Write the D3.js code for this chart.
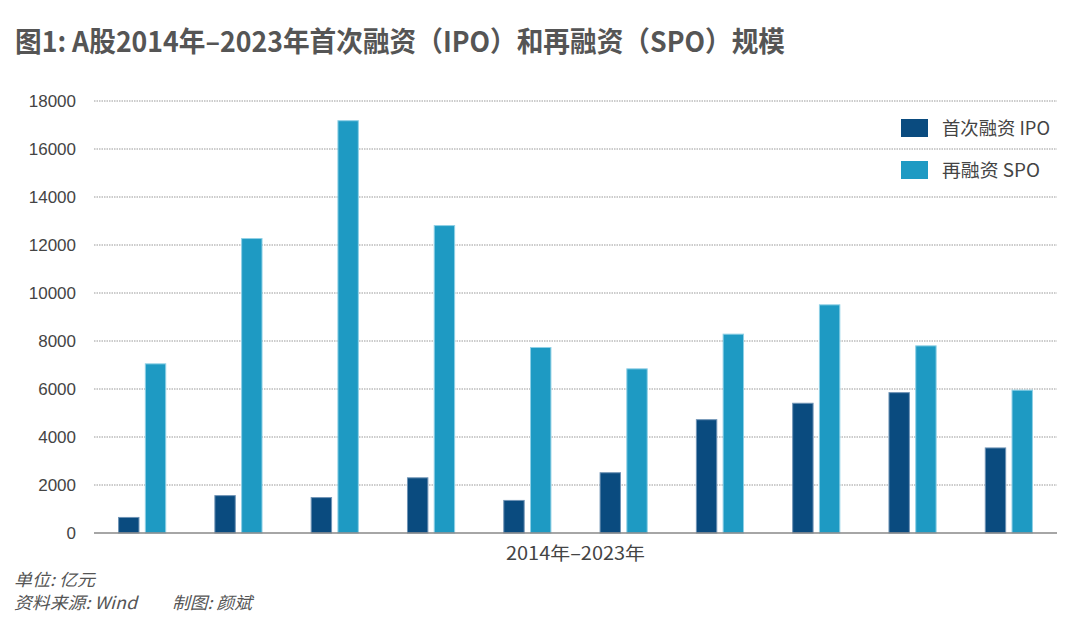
<!DOCTYPE html>
<html>
<head>
<meta charset="utf-8">
<script src="https://cdn.jsdelivr.net/npm/d3@7"></script>
<style>
  body { margin: 0; background: #fff; }
  svg text { font-family: "Noto Sans CJK SC", "Noto Sans", sans-serif; }
</style>
</head>
<body>
<svg id="chart" width="1080" height="632"></svg>
<script>
// years on the x axis
const years = ['2014', '2015', '2016', '2017', '2018', '2019', '2020', '2021', '2022', '2023'];
// 首次融资 IPO (亿元)
const ipoValues = [669, 1578, 1496, 2320, 1378, 2532, 4742, 5427, 5869, 3565];
// 再融资 SPO (亿元)
const spoValues = [7069, 12290, 17200, 12830, 7750, 6861, 8306, 9528, 7819, 5972];
const seriesNames = ['首次融资 IPO', '再融资 SPO'];
const yTicks = [0, 2000, 4000, 6000, 8000, 10000, 12000, 14000, 16000, 18000];

const colors = ['#0a4b7f', '#1e9ac3'];
const strokes = ['#6f93b5', '#8fd0e6'];

const svg = d3.select('#chart');
const margin = { top: 101, right: 23, bottom: 99, left: 94 };
const width = 1080 - margin.left - margin.right;
const height = 632 - margin.top - margin.bottom;

// title
svg.append('text')
  .attr('x', 15)
  .attr('y', 52)
  .attr('font-size', 28)
  .attr('font-weight', 'bold')
  .attr('fill', '#555')
  .attr('textLength', 770)
  .attr('lengthAdjust', 'spacingAndGlyphs')
  .text('图1: A股2014年–2023年首次融资（IPO）和再融资（SPO）规模');

const g = svg.append('g').attr('transform', `translate(${margin.left},${margin.top})`);

const x = d3.scaleBand().domain(years).range([0, width]).paddingInner(0.5).paddingOuter(0.25);
const xInner = d3.scaleBand().domain([0, 1]).range([0, x.bandwidth()]).paddingInner(0.2);
const y = d3.scaleLinear().domain([0, 18000]).range([height, 0]);

// gridlines
g.selectAll('.grid')
  .data(yTicks.filter(d => d > 0))
  .enter()
  .append('line')
  .attr('x1', 0)
  .attr('x2', width)
  .attr('y1', d => y(d))
  .attr('y2', d => y(d))
  .attr('stroke', '#999')
  .attr('stroke-width', 1)
  .attr('stroke-dasharray', '1.5,1');

// y axis labels
const yAxis = g.append('g')
  .call(d3.axisLeft(y).tickValues(yTicks).tickSize(0).tickPadding(18).tickFormat(d3.format('d')));
yAxis.select('.domain').remove();
yAxis.selectAll('text')
  .attr('font-size', 17)
  .attr('fill', '#444')
  .style('font-family', '"Liberation Sans", "Noto Sans", sans-serif');

// bars
const data = years.map((yr, i) => ({ year: yr, values: [ipoValues[i], spoValues[i]] }));
const groups = g.selectAll('.yr')
  .data(data)
  .enter()
  .append('g')
  .attr('transform', d => `translate(${x(d.year)},0)`);

groups.selectAll('rect')
  .data(d => d.values.map((v, k) => ({ k, v })))
  .enter()
  .append('rect')
  .attr('x', d => xInner(d.k) + 0.5)
  .attr('y', d => y(d.v) + 0.5)
  .attr('width', xInner.bandwidth() - 1)
  .attr('height', d => height - y(d.v) - 0.5)
  .attr('fill', d => colors[d.k])
  .attr('stroke', d => strokes[d.k])
  .attr('stroke-width', 1);

// baseline
g.append('line')
  .attr('x1', 0).attr('x2', width)
  .attr('y1', height).attr('y2', height)
  .attr('stroke', '#888')
  .attr('stroke-width', 1.5);

// x axis title
g.append('text')
  .attr('x', width / 2)
  .attr('y', height + 27)
  .attr('text-anchor', 'middle')
  .attr('font-size', 18)
  .attr('fill', '#444')
  .attr('textLength', 139)
  .attr('lengthAdjust', 'spacingAndGlyphs')
  .text('2014年–2023年');

// legend
const legendWidths = [108, 98];
const legend = svg.append('g').attr('transform', 'translate(901,119)');
seriesNames.forEach((name, i) => {
  const row = legend.append('g').attr('transform', `translate(0,${i * 42})`);
  row.append('rect')
    .attr('width', 27).attr('height', 18)
    .attr('fill', colors[i]);
  row.append('text')
    .attr('x', 41).attr('y', 16)
    .attr('font-size', 18)
    .attr('fill', '#444')
    .attr('textLength', legendWidths[i])
    .attr('lengthAdjust', 'spacingAndGlyphs')
    .text(name);
});

// footnotes
const notes = svg.append('g')
  .attr('font-size', 17)
  .attr('font-style', 'italic')
  .attr('fill', '#555');
notes.append('text').attr('x', 14).attr('y', 586)
  .attr('textLength', 81).attr('lengthAdjust', 'spacingAndGlyphs').text('单位: 亿元');
notes.append('text').attr('x', 14).attr('y', 609)
  .attr('textLength', 123).attr('lengthAdjust', 'spacingAndGlyphs').text('资料来源: Wind');
notes.append('text').attr('x', 172).attr('y', 609)
  .attr('textLength', 80).attr('lengthAdjust', 'spacingAndGlyphs').text('制图: 颜斌');
</script>
</body>
</html>
